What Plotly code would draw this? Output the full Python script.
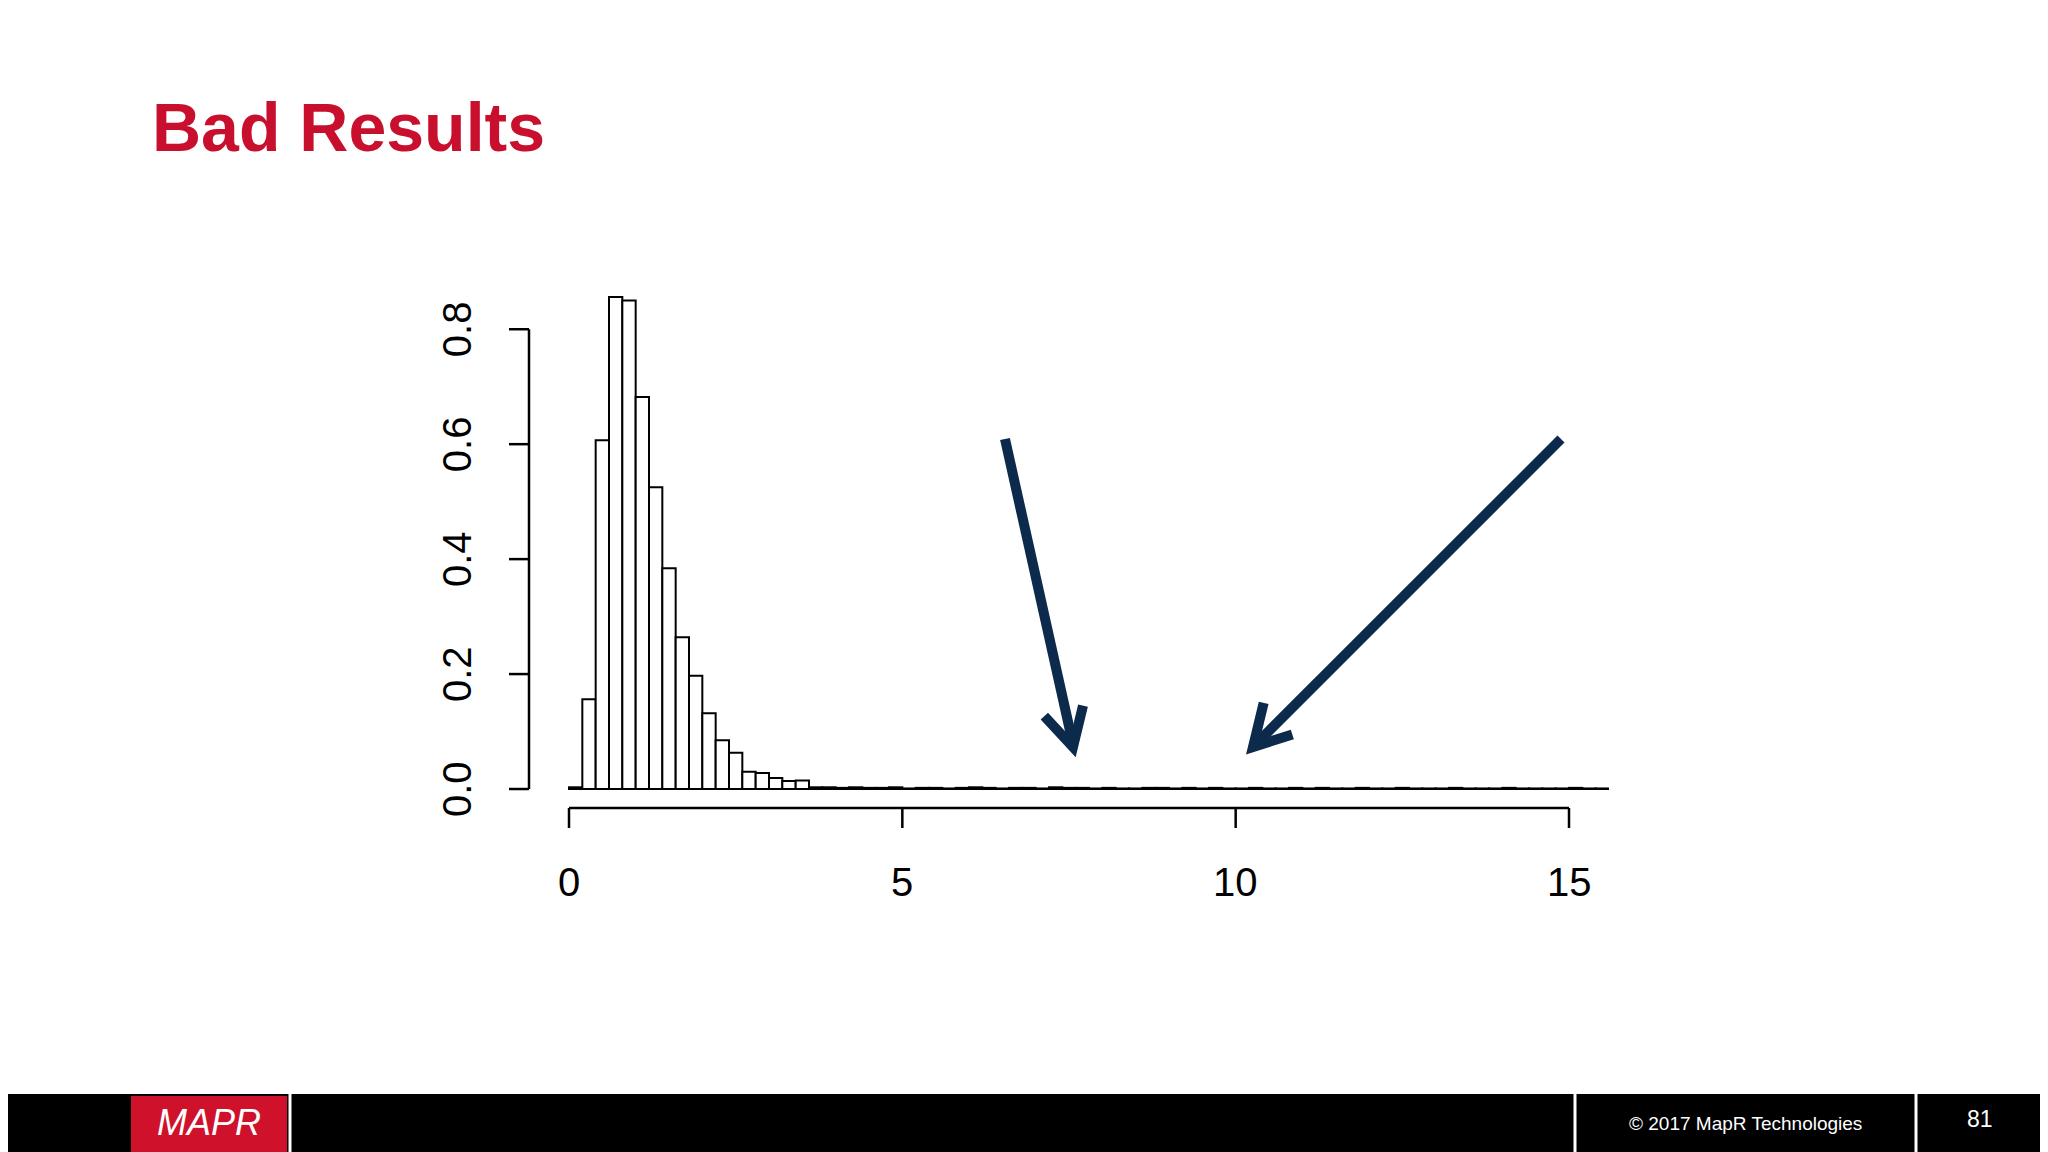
import plotly.graph_objects as go

bin_width = 0.2
bin_starts = [round(i * 0.2, 1) for i in range(78)]
density = [0.003, 0.156, 0.607, 0.856, 0.850, 0.682, 0.525, 0.384, 0.264, 0.197,
           0.132, 0.085, 0.063, 0.030, 0.028, 0.019, 0.014, 0.015,
           0.003, 0.003, 0.002, 0.003, 0.002, 0.002, 0.003, 0.001, 0.002, 0.002,
           0.001, 0.002, 0.003, 0.002, 0.001, 0.002, 0.002, 0.001, 0.003, 0.002,
           0.002, 0.001, 0.002, 0.001, 0.001, 0.002, 0.002, 0.001, 0.002, 0.001,
           0.002, 0.001, 0.001, 0.002, 0.001, 0.001, 0.002, 0.001, 0.002, 0.001,
           0.001, 0.002, 0.001, 0.001, 0.002, 0.001, 0.001, 0.001, 0.002, 0.001,
           0.001, 0.001, 0.002, 0.001, 0.001, 0.001, 0.001, 0.002, 0.001, 0.001]
x_ticks = [0, 5, 10, 15]
y_ticks = [0.0, 0.2, 0.4, 0.6, 0.8]
y_tick_labels = ["0.0", "0.2", "0.4", "0.6", "0.8"]

XR = [-0.6, 15.6]
YR = [-0.04, 0.87]
W, H = 2048, 1152
OFF = 8
L, R, T, B = 529 - OFF, 439 + OFF, 289 - OFF, 340 + OFF

def dx(x):
    return (x - XR[0]) / (XR[1] - XR[0])
def dy(y):
    return (y - YR[0]) / (YR[1] - YR[0])
pw, ph = W - L - R, H - T - B
def px(x):
    return (x - OFF - L) / pw
def py(y):
    return (H - B - (y - OFF)) / ph

centers = [s + bin_width / 2 for s in bin_starts]
fig = go.Figure(go.Bar(x=centers, y=density, width=bin_width,
                       marker=dict(color="white", line=dict(color="black", width=2)),
                       hoverinfo="skip"))

P = dict(xref="paper", yref="paper")
shapes = []
annots = []
ax_y = -0.033
ax_x = -0.6
lw = dict(color="black", width=2.5)
shapes.append(dict(type="rect", **P, x0=px(-20), x1=px(W + 20), y0=py(1094), y1=py(1170),
                   fillcolor="black", line=dict(width=0), layer="below"))
shapes.append(dict(type="line", **P, x0=dx(x_ticks[0]), x1=dx(x_ticks[-1]), y0=dy(ax_y), y1=dy(ax_y), line=lw))
for t in x_ticks:
    shapes.append(dict(type="line", **P, x0=dx(t), x1=dx(t), y0=dy(ax_y), y1=dy(ax_y) - 20 / ph, line=lw))
    annots.append(dict(**P, x=dx(t), y=dy(ax_y) - 74 / ph, xanchor="center", yanchor="middle",
                       text=str(t), showarrow=False, font=dict(size=40, color="black")))
shapes.append(dict(type="line", **P, x0=dx(ax_x), x1=dx(ax_x), y0=dy(y_ticks[0]), y1=dy(y_ticks[-1]), line=lw))
for t, lab in zip(y_ticks, y_tick_labels):
    shapes.append(dict(type="line", **P, x0=dx(ax_x), x1=dx(ax_x) - 20 / pw, y0=dy(t), y1=dy(t), line=lw))
    annots.append(dict(**P, x=px(457), y=dy(t), xanchor="center", yanchor="middle", text=lab,
                       showarrow=False, textangle=-90, font=dict(size=40, color="black")))

navy = "#0b2a4c"
shapes.append(dict(type="line", x0=6.54, y0=0.609, x1=7.56, y1=0.078, line=dict(color=navy, width=10)))
shapes.append(dict(type="path", path="M 7.13 0.127 L 7.56 0.073 L 7.71 0.145", line=dict(color=navy, width=10)))
shapes.append(dict(type="line", x0=14.88, y0=0.609, x1=10.3, y1=0.078, line=dict(color=navy, width=10)))
shapes.append(dict(type="path", path="M 10.42 0.150 L 10.26 0.073 L 10.85 0.095", line=dict(color=navy, width=10)))

shapes.append(dict(type="rect", **P, x0=px(131), x1=px(287), y0=py(1096), y1=py(1152),
                   fillcolor="#d0112b", line=dict(width=0)))
for sx in [290, 1575, 1916]:
    shapes.append(dict(type="line", **P, x0=px(sx), x1=px(sx), y0=py(1094), y1=py(1152),
                       line=dict(color="white", width=3)))
annots.append(dict(**P, x=px(209), y=py(1122), xanchor="center", yanchor="middle", text="<i>MAPR</i>",
                   showarrow=False, font=dict(size=36, color="white")))
annots.append(dict(**P, x=px(1745), y=py(1123), xanchor="center", yanchor="middle",
                   text="© 2017 MapR Technologies", showarrow=False, font=dict(size=19, color="white")))
annots.append(dict(**P, x=px(1980), y=py(1119), xanchor="center", yanchor="middle", text="81",
                   showarrow=False, font=dict(size=23, color="white")))
annots.append(dict(**P, x=px(150), y=py(127), xanchor="left", yanchor="middle", text="<b>Bad Results</b>",
                   showarrow=False, font=dict(size=68, color="#c8102e")))

fig.update_layout(
    width=W, height=H,
    margin=dict(l=L, r=R, t=T, b=B),
    paper_bgcolor="white", plot_bgcolor="white",
    xaxis=dict(range=XR, visible=False),
    yaxis=dict(range=YR, visible=False),
    showlegend=False,
    font=dict(family="Liberation Sans, Arial"),
    shapes=shapes,
    annotations=annots,
)

fig.write_html("out.html")
